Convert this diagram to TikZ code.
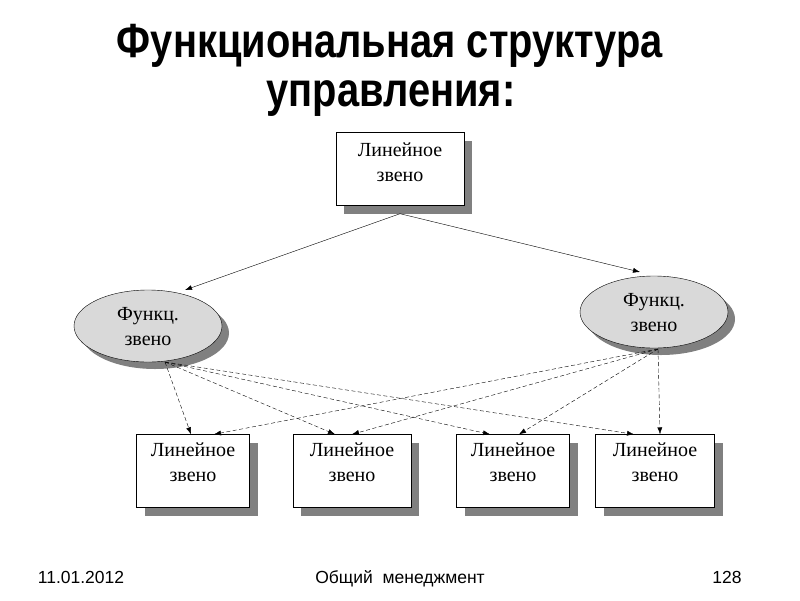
\documentclass[tikz,border=0pt]{standalone}
\usepackage{fontspec}
\setmainfont{Liberation Serif}
\setsansfont{Liberation Sans}
\usetikzlibrary{shapes.geometric,shadows,arrows.meta}

\begin{document}
\begin{tikzpicture}[x=1pt,y=-1pt,
    link/.style={draw, align=center, font=\fontsize{20}{25}\selectfont,
        fill=white, minimum width=116pt, minimum height=73pt, inner sep=0pt,
        text depth=18pt,
        drop shadow={shadow xshift=8pt, shadow yshift=-8pt, fill=black!50, opacity=1}},
    func/.style={ellipse, draw, align=center, font=\fontsize{20}{25}\selectfont,
        fill=black!15, minimum width=148pt, minimum height=72pt, inner sep=0pt,
        text depth=-6pt,
        drop shadow={shadow xshift=7pt, shadow yshift=-7pt, fill=black!50, opacity=1}},
    heading/.style={font=\sffamily\bfseries\fontsize{48}{56}\selectfont,
        transform shape, xscale=0.83, anchor=base},
    footer/.style={font=\sffamily\fontsize{17.5}{21}\selectfont, anchor=base},
    order/.style={-{Latex[length=7pt,width=5pt]}},
    advice/.style={-{Latex[length=7pt,width=5pt]}, dash pattern=on 4pt off 2.5pt}]
    \useasboundingbox (0,0) rectangle (800,600);
    % Title
    \node[heading] (title1) at (390,57) {Функциональная структура};
    \node[heading] (title2) at (391,106) {управления:};
    % Line and functional units
    \node[link, minimum width=128pt, text depth=14pt] (top) at (400,169) {Линейное\\звено};
    \node[func] (fleft) at (148,326) {Функц.\\звено};
    \node[func] (fright) at (654,312) {Функц.\\звено};
    \node[link, minimum width=113pt] (b1) at (193,471) {Линейное\\звено};
    \node[link, minimum width=118pt] (b2) at (352,471) {Линейное\\звено};
    \node[link, minimum width=113pt] (b3) at (513,471) {Линейное\\звено};
    \node[link, minimum width=119pt] (b4) at (655,471) {Линейное\\звено};
    % Orders
    \coordinate (topout) at ([yshift=-8pt]top.south);
    \draw[order] (topout) -- (185,290);
    \draw[order] (topout) -- (640,272);
    % Advice
    \coordinate (lout) at (165,362);
    \coordinate (rout) at (658,349);
    \draw[advice] (lout) -- ([xshift=-2pt]b1.north);
    \draw[advice] (lout) -- ([xshift=-17pt]b2.north);
    \draw[advice] (lout) -- ([xshift=-23pt]b3.north);
    \draw[advice] (lout) -- ([xshift=-21pt]b4.north);
    \draw[advice] (rout) -- ([xshift=21pt]b1.north);
    \draw[advice] (rout) -- ([xshift=0pt]b2.north);
    \draw[advice] (rout) -- ([xshift=6pt]b3.north);
    \draw[advice] (rout) -- ([xshift=5pt]b4.north);
    % Footer
    \node[footer] (date) at (81,583) {11.01.2012};
    \node[footer] (course) at (400,583) {Общий~ менеджмент};
    \node[footer] (page) at (727,583) {128};
\end{tikzpicture}
\end{document}
